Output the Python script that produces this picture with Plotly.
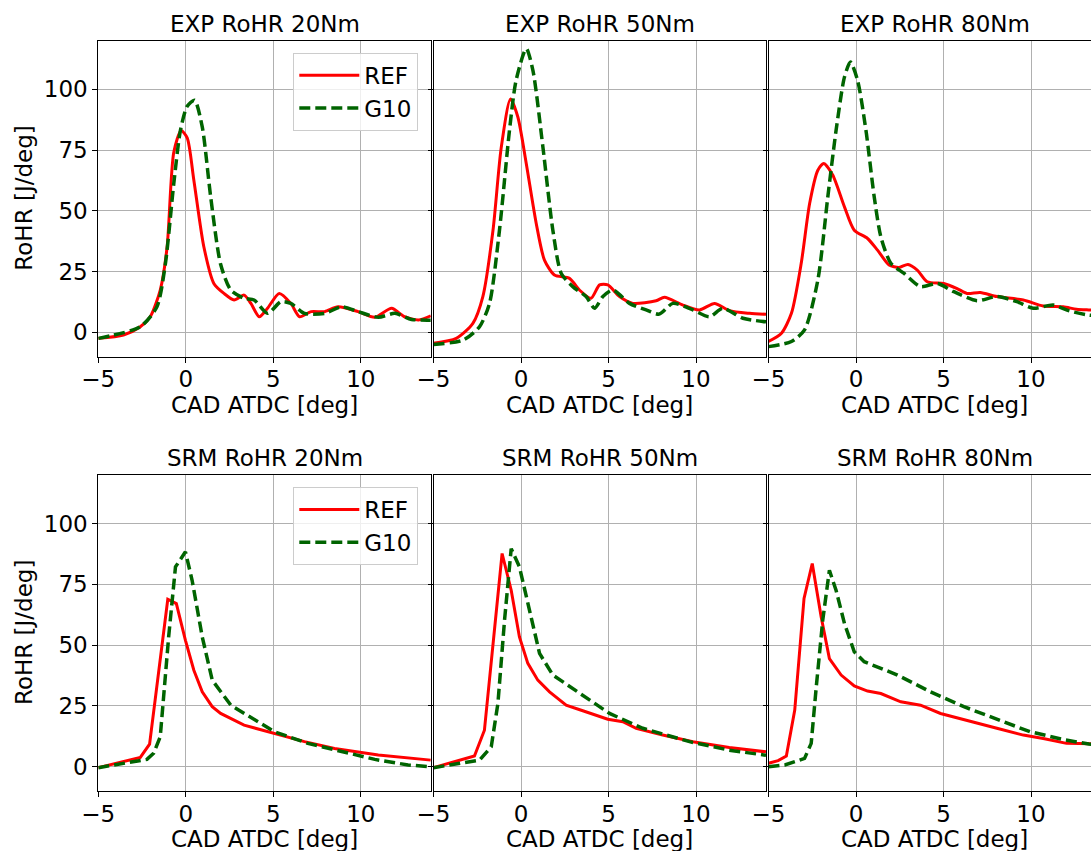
import plotly.graph_objects as go

# ---- crank-angle / rate-of-heat-release curves (CAD ATDC [deg], RoHR [J/deg]) ----
# Experimental, 20 Nm
exp20_ref_x = [-5, -3.56, -2.6, -2.03, -1.46, -1.07, -0.69, -0.27, 0.08, 0.46, 1.03, 1.61, 2.18, 2.76,
               3.33, 3.72, 4.2, 4.67, 5.34, 6.0, 6.5, 7.16, 7.93, 8.7, 9.85, 10.8, 11.76, 12.5, 13.3, 14.0]
exp20_ref_y = [-2.5, -1.1, 2.3, 6.4, 17.4, 35, 74, 83, 80, 62.6, 35.2, 20, 16, 13.3,
               15.3, 11.9, 6.4, 9.9, 16, 11.9, 6.4, 8.5, 8.5, 10.5, 8.5, 6.2, 9.9, 6.4, 5.1, 6.8]
exp20_g10_x = [-5, -2.6, -1.65, -1.17, -0.69, -0.31, 0.08, 0.5, 0.94, 1.42, 1.99, 2.57, 3.33, 3.9,
               4.67, 5.44, 6.0, 6.78, 7.93, 8.9, 9.85, 11.0, 11.95, 12.9, 14.0]
exp20_g10_y = [-2.5, 2.3, 10.5, 28, 61, 83, 93, 95.5, 84.5, 55.8, 28, 17.4, 14, 13.3,
               7.8, 12.6, 11.9, 7.8, 7.8, 10.5, 8.5, 6.2, 7.8, 5.3, 5.0]

# Experimental, 50 Nm
exp50_ref_x = [-5, -3.7, -2.75, -2.18, -1.6, -1.13, -0.6, -0.18, 0.3, 0.87, 1.34, 1.91, 2.77, 3.34,
               4.0, 4.49, 4.96, 5.63, 6.39, 7.72, 8.2, 9.25, 10.2, 11.06, 11.9, 13.06, 14.0]
exp50_ref_y = [-4.5, -2.5, 3.7, 14.7, 42, 76, 96, 88.6, 69.5, 44.8, 29.7, 23.6, 22.2, 17.4,
               14, 19.5, 19.5, 14.7, 11.9, 13, 14.4, 11.2, 9.2, 11.9, 8.9, 7.8, 7.4]
exp50_g10_x = [-5, -3.3, -2.37, -1.8, -1.23, -0.66, -0.28, 0.3, 0.68, 1.25, 1.82, 2.3, 2.96, 3.72,
               4.2, 4.68, 5.25, 6.2, 7.15, 7.9, 8.68, 9.82, 10.77, 11.53, 12.68, 14.0]
exp50_g10_y = [-5, -3.2, 2.3, 11.9, 42, 83, 103.7, 116.7, 107.8, 76.3, 42, 24.2, 18.8, 14.7,
               9.9, 14.7, 17.4, 11.9, 9.2, 7.5, 11.9, 9.2, 6.4, 9.9, 5.8, 4.3]

# Experimental, 80 Nm
exp80_ref_x = [-5, -4.26, -3.69, -3.13, -2.65, -2.18, -1.84, -1.33, -0.66, -0.1, 0.66, 1.23, 1.89,
               2.46, 2.97, 3.5, 4.07, 5.02, 5.78, 6.34, 7.1, 8.05, 9.56, 10.7, 11.84, 12.6, 13.3, 14.0]
exp80_ref_y = [-3.8, -0.4, 7.8, 28.4, 53, 66.7, 69.5, 64.7, 51.6, 42, 38.6, 33.8, 27.7,
               26.7, 27.9, 25.6, 20.8, 20.1, 18, 16, 16.4, 14.7, 13.3, 10.8, 10.5, 9.5, 9.2, 9.0]
exp80_g10_x = [-5, -3.69, -2.94, -2.18, -1.61, -1.14, -0.66, -0.32, 0.09, 0.57, 1.04, 1.42, 1.99,
               2.75, 3.69, 4.64, 5.59, 6.91, 8.05, 9.19, 10.13, 11.27, 12.2, 13.3, 14.0]
exp80_g10_y = [-5.9, -3.8, 1, 21.5, 55.8, 83, 105, 111.2, 103.7, 83, 55.8, 39.3, 28.4,
               24.2, 18.8, 20.1, 16.7, 13, 14.7, 12.6, 9.9, 11.2, 8.8, 7.1, 6.8]

# Simulation (SRM), 20 Nm
srm20_ref_x = [-5, -2.6, -2.07, -1.03, -0.54, -0.02, 0.46, 0.94, 1.51, 1.99, 3.33, 5.06, 6.78, 8.5, 11.0, 14.0]
srm20_ref_y = [-0.4, 3.8, 9.3, 68.9, 67.1, 52, 39.7, 30.8, 24.7, 21.9, 17.1, 13.7, 10.3, 7.5, 4.8, 2.7]
srm20_g10_x = [-5, -2.22, -1.84, -1.46, -0.98, -0.59, -0.02, 0.36, 0.94, 1.51, 2.57, 4.1, 5.06,
               6.97, 8.9, 10.8, 12.7, 14.0]
srm20_g10_y = [-0.4, 3, 5.5, 12.3, 53.4, 82.2, 88.4, 76.7, 53.4, 35.6, 25.3, 18.5, 14.4,
               9.6, 6.2, 3, 0.7, 0]

# Simulation (SRM), 50 Nm
srm50_ref_x = [-5, -2.66, -2.09, -1.61, -1.08, -0.56, -0.09, 0.39, 0.96, 1.63, 2.58, 3.53, 4.96,
               5.82, 6.58, 8.1, 9.82, 11.9, 14.0]
srm50_ref_y = [-0.4, 4.4, 15, 50.7, 87.7, 72.6, 53.4, 42.5, 35.6, 30.8, 25.3, 23, 19.5,
               18.5, 15.8, 13, 10.3, 7.9, 6.1]
srm50_g10_x = [-5, -2.37, -1.7, -1.32, -0.94, -0.56, -0.09, 0.49, 1.06, 1.82, 3.34, 5.06, 6.96,
               9.63, 11.9, 14.0]
srm50_g10_y = [-0.4, 2.7, 8.2, 26, 60.3, 89.7, 82.2, 64.4, 46.6, 37.7, 30.1, 21.9, 15.8,
               10.3, 6.8, 4.7]

# Simulation (SRM), 80 Nm
srm80_ref_x = [-5, -4.45, -3.98, -3.5, -2.97, -2.5, -1.99, -1.52, -0.85, -0.1, 0.66, 1.42, 2.56,
               3.69, 4.83, 6.16, 8.05, 9.56, 10.7, 12.03, 13.3, 14.0]
srm80_ref_y = [1.4, 2.5, 4.4, 23.3, 69.2, 83.6, 61.6, 44.5, 37.7, 33.2, 31.1, 30.1, 26.7,
               25.3, 21.9, 19.5, 15.8, 13, 11.6, 9.6, 9.6, 9.4]
srm80_g10_x = [-5, -4.07, -2.94, -2.56, -2.27, -1.9, -1.52, -1.14, -0.66, -0.1, 0.47, 2.37, 4.26,
               6.16, 8.43, 9.94, 11.84, 13.3, 14.0]
srm80_g10_y = [0, 0.7, 3.4, 9.6, 32.9, 60.3, 80.8, 72.6, 58.9, 47.3, 43.2, 37.7, 30.8,
               24.7, 18.5, 14.4, 11.2, 9.3, 9.0]

panel_titles = ["EXP RoHR 20Nm", "EXP RoHR 50Nm", "EXP RoHR 80Nm",
                "SRM RoHR 20Nm", "SRM RoHR 50Nm", "SRM RoHR 80Nm"]
series_names = ["REF", "G10"]
x_label = "CAD ATDC [deg]"
y_label = "RoHR [J/deg]"
x_ticks = [-5, 0, 5, 10]
x_tick_text = ["\u22125", "0", "5", "10"]
y_ticks = [0, 25, 50, 75, 100]

panels = [
    (exp20_ref_x, exp20_ref_y, exp20_g10_x, exp20_g10_y),
    (exp50_ref_x, exp50_ref_y, exp50_g10_x, exp50_g10_y),
    (exp80_ref_x, exp80_ref_y, exp80_g10_x, exp80_g10_y),
    (srm20_ref_x, srm20_ref_y, srm20_g10_x, srm20_g10_y),
    (srm50_ref_x, srm50_ref_y, srm50_g10_x, srm50_g10_y),
    (srm80_ref_x, srm80_ref_y, srm80_g10_x, srm80_g10_y),
]

# ---- page geometry (pixels) ----
W, H = 1091, 851
FONT = "DejaVu Sans"
FS = 23
PX_PER_DEG = 17.5
col_px = [(98.3, 430.8), (433.5, 766.0), (768.5, 1091.0)]
row_px = [(40.7, 356.6), (475.0, 791.0)]
x_max = [14.0, 14.0, -5 + (1091.0 - 768.5) / PX_PER_DEG]
Y_RANGE = [-10, 120]

RED = "#ff0000"
GREEN = "#006400"
GRID = "#b0b0b0"

fig = go.Figure()
layout = dict(
    width=W, height=H,
    margin=dict(l=0, r=0, t=0, b=0, autoexpand=False),
    paper_bgcolor="white", plot_bgcolor="white",
    font=dict(family=FONT, size=FS, color="black"),
    annotations=[],
)

for i, (rx, ry, gx, gy) in enumerate(panels):
    r, c = divmod(i, 3)
    k = "" if i == 0 else str(i + 1)
    smooth = r == 0  # measured curves are smooth, simulated ones are polylines
    leg = None
    if c == 0:
        leg = "legend" if r == 0 else "legend2"
    for (xs, ys, name, color, width, dash) in [
        (rx, ry, series_names[0], RED, 3, "solid"),
        (gx, gy, series_names[1], GREEN, 3.5, "11px,5px"),
    ]:
        tr = dict(
            x=xs, y=ys, mode="lines", name=name,
            line=dict(color=color, width=width, dash=dash,
                      shape="spline" if smooth else "linear",
                      smoothing=0.7 if smooth else None),
            xaxis="x" + k, yaxis="y" + k,
            showlegend=leg is not None,
            hoverinfo="skip",
        )
        if leg is not None:
            tr["legend"] = leg
        fig.add_trace(go.Scatter(**tr))

    x0, x1 = col_px[c]
    top, bot = row_px[r]
    layout["xaxis" + k] = dict(
        domain=[x0 / W, min(x1 / W, 1.0)], range=[-5, x_max[c]],
        anchor="y" + k, tickvals=x_ticks, ticktext=x_tick_text,
        automargin=False, ticklabelstandoff=-3,
        showgrid=True, gridcolor=GRID, gridwidth=1, zeroline=False,
        showline=True, linecolor="black", linewidth=1, mirror=True,
        ticks="outside", ticklen=5, tickwidth=1, tickcolor="black",
        tickfont=dict(family=FONT, size=FS, color="black"),
    )
    layout["yaxis" + k] = dict(
        domain=[1 - bot / H, 1 - top / H], range=Y_RANGE,
        anchor="x" + k, tickvals=y_ticks,
        automargin=False,
        showgrid=True, gridcolor=GRID, gridwidth=1, zeroline=False,
        showline=True, linecolor="black", linewidth=1,
        mirror=(c < 2),
        ticks="outside", ticklen=5, tickwidth=1, tickcolor="black",
        showticklabels=(c == 0),
        tickfont=dict(family=FONT, size=FS, color="black"),
    )

    # centre of the full panel width (the last panel runs past the page edge)
    cx = (x0 + x0 + 19 * PX_PER_DEG) / 2 / W
    layout["annotations"].append(dict(
        text=panel_titles[i], x=cx, y=1 - (top - 17) / H, xref="paper", yref="paper",
        xanchor="center", yanchor="middle", showarrow=False,
        font=dict(family=FONT, size=FS, color="black")))
    layout["annotations"].append(dict(
        text=x_label, x=cx, y=1 - (bot + 48) / H, xref="paper", yref="paper",
        xanchor="center", yanchor="middle", showarrow=False,
        font=dict(family=FONT, size=FS, color="black")))
    if c == 0:
        layout["annotations"].append(dict(
            text=y_label, x=24 / W, y=1 - (top + bot) / 2 / H, xref="paper", yref="paper",
            xanchor="center", yanchor="middle", textangle=-90, showarrow=False,
            font=dict(family=FONT, size=FS, color="black")))

legend_style = dict(
    xanchor="right", yanchor="top",
    itemwidth=60,
    bgcolor="rgba(255,255,255,0.8)", bordercolor="#cccccc", borderwidth=1,
    font=dict(family=FONT, size=FS, color="black"),
)
layout["legend"] = dict(x=418.3 / W, y=1 - 52.7 / H, **legend_style)
layout["legend2"] = dict(x=418.3 / W, y=1 - 487.0 / H, **legend_style)

fig.update_layout(**layout)
fig.write_html("out.html")
